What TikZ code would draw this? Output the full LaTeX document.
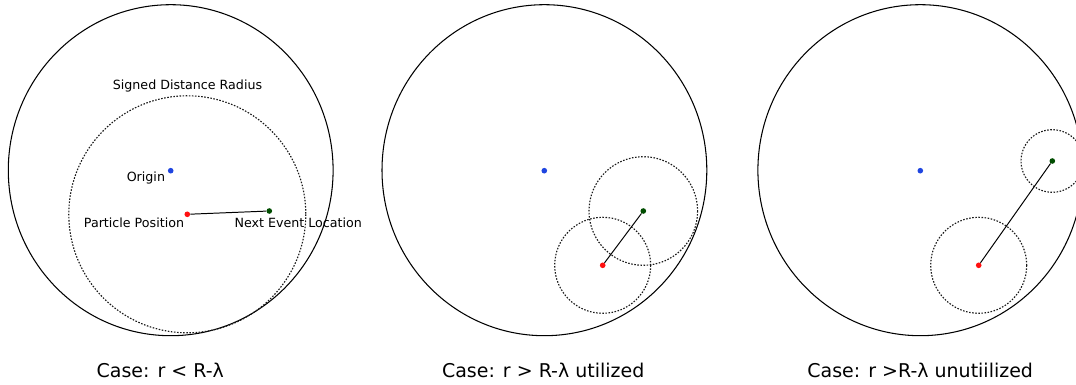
\documentclass[tikz,border=0pt]{standalone}
\usepackage{fontspec}
\setmainfont{DejaVu Sans}
\usetikzlibrary{positioning}
\definecolor{OriginBlue}{HTML}{1F45E0}
\definecolor{ParticleRed}{HTML}{FF1010}
\definecolor{EventGreen}{HTML}{004D00}
\tikzset{
    pointnode/.style={circle, inner sep=0pt, minimum size=4pt},
    boundary/.style={draw=black, line width=0.75pt},
    sdfring/.style={draw=black!90, line width=0.8pt, dash pattern=on 1.1pt off 1.1pt},
    step line/.style={draw=black, line width=0.7pt},
    tag/.style={inner sep=0pt, font=\fontsize{9}{11}\selectfont},
    casetext/.style={inner sep=0pt, anchor=base, font=\fontsize{13.5}{16}\selectfont},
}
\begin{document}
\begin{tikzpicture}[x=0.025cm, y=-0.025cm]
    \useasboundingbox (0,0) rectangle (1076,385);
    \clip (0,0) rectangle (1076,385);

    % 1. Case r < R-lambda
    \draw[boundary] (170.7,170.2) ellipse[x radius=162.4, y radius=165.5];
    \node[pointnode, fill=OriginBlue] (o1) at (170.7,170.7) {};
    \node[pointnode, fill=ParticleRed] (p1) at (187.3,214.3) {};
    \node[pointnode, fill=EventGreen] (e1) at (269.3,211) {};
    \draw[sdfring] (p1.center) circle[radius=118.5];
    \draw[step line] (p1) -- (e1);
    \node[tag, anchor=base] (sdr) at (187.5,90) {Signed Distance Radius};
    \node[tag, anchor=base east] (ol) at (165.3,181.7) {Origin};
    \node[tag, anchor=base east] (pl) at (184.3,227.7) {Particle Position};
    \node[tag, anchor=base west] (el) at (234.3,227.7) {Next Event Location};
    \node[casetext] (c1) at (160.3,377.5) {Case: r < R-λ};

    % 2. Case r > R-lambda, utilized
    \draw[boundary] (544.4,170.2) ellipse[x radius=162.4, y radius=165.5];
    \node[pointnode, fill=OriginBlue] (o2) at (544.3,170.7) {};
    \node[pointnode, fill=ParticleRed] (p2) at (602.7,265.3) {};
    \node[pointnode, fill=EventGreen] (e2) at (643.3,211) {};
    \draw[sdfring] (p2.center) circle[radius=48];
    \draw[sdfring] (e2.center) circle[radius=54.3];
    \draw[step line] (p2) -- (e2);
    \node[casetext] (c2) at (543.2,377.5) {Case: r > R-λ utilized};

    % 3. Case r > R-lambda, not utilized
    \draw[boundary] (920.3,170.2) ellipse[x radius=162.4, y radius=165.5];
    \node[pointnode, fill=OriginBlue] (o3) at (920.3,170.7) {};
    \node[pointnode, fill=ParticleRed] (p3) at (978.7,265.3) {};
    \node[pointnode, fill=EventGreen] (e3) at (1052.3,161) {};
    \draw[sdfring] (p3.center) circle[radius=48];
    \draw[sdfring] (e3.center) circle[radius=31.3];
    \draw[step line] (p3) -- (e3);
    \node[casetext] (c3) at (920.2,377.5) {Case: r >R-λ unutiilized};

\end{tikzpicture}
\end{document}
